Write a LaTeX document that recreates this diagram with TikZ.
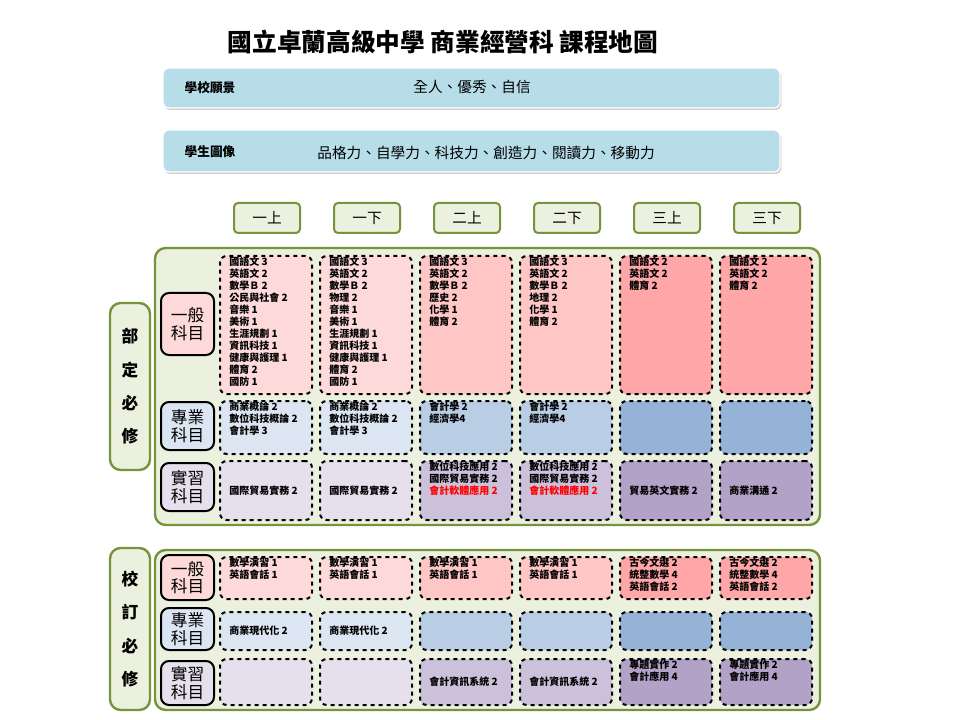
\documentclass[tikz,border=0pt]{standalone}
\usepackage{fontspec}
\setmainfont{Noto Sans CJK TC}
\usetikzlibrary{shadows}
\definecolor{gfill}{HTML}{EBF1DE}
\definecolor{gline}{HTML}{77933C}
\definecolor{bar}{HTML}{B7DDE8}
\definecolor{pA}{HTML}{FDD9D9}\definecolor{pB}{HTML}{FFC6C6}\definecolor{pC}{HTML}{FFA6A8}
\definecolor{bA}{HTML}{DCE6F2}\definecolor{bB}{HTML}{B9CDE5}\definecolor{bC}{HTML}{95B3D7}
\definecolor{vA}{HTML}{E5E0EC}\definecolor{vB}{HTML}{CCC1DA}\definecolor{vC}{HTML}{B3A2C7}
\tikzset{
 cellbox/.style={draw=black, dashed, line width=1.5pt, rounded corners=5pt, anchor=north west, inner sep=0},
 celltext/.style={anchor=north west, align=left, font=\fontsize{7.5}{9}\selectfont\bfseries, inner sep=0},
 rowlab/.style={draw=black, line width=1.5pt, rounded corners=6pt, anchor=north west, inner sep=0, align=center, font=\fontsize{12.5}{13}\selectfont},
 gbox/.style={draw=gline, line width=1.8pt, fill=gfill, rounded corners=8pt},
 tab/.style={draw=gline, line width=1.5pt, fill=gfill, rounded corners=3pt, minimum width={66*0.75pt}, minimum height={30*0.75pt}, font=\fontsize{11}{12}\selectfont},
 barbox/.style={fill=bar, draw=white, line width=1pt, rounded corners=4pt, drop shadow={shadow xshift=1pt, shadow yshift=-1.5pt, opacity=0.4}},
}
\newcommand\mycell[7]{% name x y w h color text
 \node[cellbox, fill=#6, minimum width={#4*0.75pt}, minimum height={#5*0.75pt}] (#1) at (#2,#3) {};
 \node[celltext] (#1t) at ([xshift=7.5pt,yshift=-1pt]#1.north west) {#7};}
\newcommand\midcell[7]{% vertically centered text
 \node[cellbox, fill=#6, minimum width={#4*0.75pt}, minimum height={#5*0.75pt}] (#1) at (#2,#3) {};
 \node[celltext, anchor=west] (#1t) at ([xshift=7.5pt]#1.west) {#7};}
\begin{document}
\begin{tikzpicture}[x=0.75pt,y=-0.75pt]
\useasboundingbox (0,0) rectangle (960,720);
\node[font=\fontsize{18.5}{20}\selectfont\bfseries] (title) at (443,42) {國立卓蘭高級中學 商業經營科 課程地圖};
\draw[barbox] (163,68) rectangle (780,108);
\node[font=\fontsize{9.5}{10}\selectfont\bfseries] (v1) at (210,88) {學校願景};
\node[font=\fontsize{11}{12}\selectfont] (v2) at (472,87) {全人、優秀、自信};
\draw[barbox] (163,130) rectangle (780,172);
\node[font=\fontsize{9.5}{10}\selectfont\bfseries] (s1) at (210,152) {學生圖像};
\node[font=\fontsize{11}{12}\selectfont] (s2) at (486,153) {品格力、自學力、科技力、創造力、閱讀力、移動力};
\foreach \t [count=\i] in {一上,一下,二上,二下,三上,三下}
  \node[tab] (tab\i) at (167+100*\i,218) {\t};
% outer boxes
\draw[gbox] (155,248) rectangle (820,525);
\draw[gbox] (155,550) rectangle (820,710);
\draw[gbox] (110,303) rectangle (150,470);
\node[font=\fontsize{12.5}{25}\selectfont\bfseries, align=center] (side1) at (130,386.5) {部\\定\\必\\修};
\draw[gbox] (110,548) rectangle (150,710);
\node[font=\fontsize{12.5}{25}\selectfont\bfseries, align=center] (side2) at (130,629) {校\\訂\\必\\修};
% row labels
\node[rowlab, fill=pA, minimum width={53*0.75pt}, minimum height={62*0.75pt}] (r1) at (160,292) {一般\\科目};
\node[rowlab, fill=bA, minimum width={53*0.75pt}, minimum height={48*0.75pt}] (r2) at (160,401) {專業\\科目};
\node[rowlab, fill=vA, minimum width={53*0.75pt}, minimum height={48*0.75pt}] (r3) at (160,462) {實習\\科目};
\node[rowlab, fill=pA, minimum width={53*0.75pt}, minimum height={45*0.75pt}] (q1) at (160,554) {一般\\科目};
\node[rowlab, fill=bA, minimum width={53*0.75pt}, minimum height={42*0.75pt}] (q2) at (160,607) {專業\\科目};
\node[rowlab, fill=vA, minimum width={53*0.75pt}, minimum height={44*0.75pt}] (q3) at (160,660) {實習\\科目};
% upper general
\mycell{g1}{219}{255}{92}{138}{pA}{國語文 3\\英語文 2\\數學Ｂ 2\\公民與社會 2\\音樂 1\\美術 1\\生涯規劃 1\\資訊科技 1\\健康與護理 1\\體育 2\\國防 1}
\mycell{g2}{319}{255}{92}{138}{pA}{國語文 3\\英語文 2\\數學Ｂ 2\\物理 2\\音樂 1\\美術 1\\生涯規劃 1\\資訊科技 1\\健康與護理 1\\體育 2\\國防 1}
\mycell{g3}{419}{255}{92}{138}{pB}{國語文 3\\英語文 2\\數學Ｂ 2\\歷史 2\\化學 1\\體育 2}
\mycell{g4}{519}{255}{92}{138}{pB}{國語文 3\\英語文 2\\數學Ｂ 2\\地理 2\\化學 1\\體育 2}
\mycell{g5}{619}{255}{92}{138}{pC}{國語文 2\\英語文 2\\體育 2}
\mycell{g6}{719}{255}{92}{138}{pC}{國語文 2\\英語文 2\\體育 2}
% upper professional
\mycell{p1}{219}{400}{92}{53}{bA}{商業概論 2\\數位科技概論 2\\會計學 3}
\mycell{p2}{319}{400}{92}{53}{bA}{商業概論 2\\數位科技概論 2\\會計學 3}
\mycell{p3}{419}{400}{92}{53}{bB}{會計學 2\\經濟學4}
\mycell{p4}{519}{400}{92}{53}{bB}{會計學 2\\經濟學4}
\mycell{p5}{619}{400}{92}{53}{bC}{}
\mycell{p6}{719}{400}{92}{53}{bC}{}
% upper practice
\midcell{x1}{219}{460}{92}{59}{vA}{國際貿易實務 2}
\midcell{x2}{319}{460}{92}{59}{vA}{國際貿易實務 2}
\mycell{x3}{419}{460}{92}{59}{vB}{數位科技應用 2\\國際貿易實務 2\\\textcolor{red}{會計軟體應用 2}}
\mycell{x4}{519}{460}{92}{59}{vB}{數位科技應用 2\\國際貿易實務 2\\\textcolor{red}{會計軟體應用 2}}
\midcell{x5}{619}{460}{92}{59}{vC}{貿易英文實務 2}
\midcell{x6}{719}{460}{92}{59}{vC}{商業溝通 2}
% lower general
\mycell{h1}{219}{556}{92}{42}{pA}{數學演習 1\\英語會話 1}
\mycell{h2}{319}{556}{92}{42}{pA}{數學演習 1\\英語會話 1}
\mycell{h3}{419}{556}{92}{42}{pB}{數學演習 1\\英語會話 1}
\mycell{h4}{519}{556}{92}{42}{pB}{數學演習 1\\英語會話 1}
\mycell{h5}{619}{556}{92}{42}{pC}{古今文選 2\\統整數學 4\\英語會話 2}
\mycell{h6}{719}{556}{92}{42}{pC}{古今文選 2\\統整數學 4\\英語會話 2}
% lower professional
\midcell{k1}{219}{611}{92}{38}{bA}{商業現代化 2}
\midcell{k2}{319}{611}{92}{38}{bA}{商業現代化 2}
\midcell{k3}{419}{611}{92}{38}{bB}{}
\midcell{k4}{519}{611}{92}{38}{bB}{}
\midcell{k5}{619}{611}{92}{38}{bC}{}
\midcell{k6}{719}{611}{92}{38}{bC}{}
% lower practice
\midcell{m1}{219}{658}{92}{46}{vA}{}
\midcell{m2}{319}{658}{92}{46}{vA}{}
\midcell{m3}{419}{658}{92}{46}{vB}{會計資訊系統 2}
\midcell{m4}{519}{658}{92}{46}{vB}{會計資訊系統 2}
\mycell{m5}{619}{658}{92}{46}{vC}{專題實作 2\\會計應用 4}
\mycell{m6}{719}{658}{92}{46}{vC}{專題實作 2\\會計應用 4}
\end{tikzpicture}
\end{document}
